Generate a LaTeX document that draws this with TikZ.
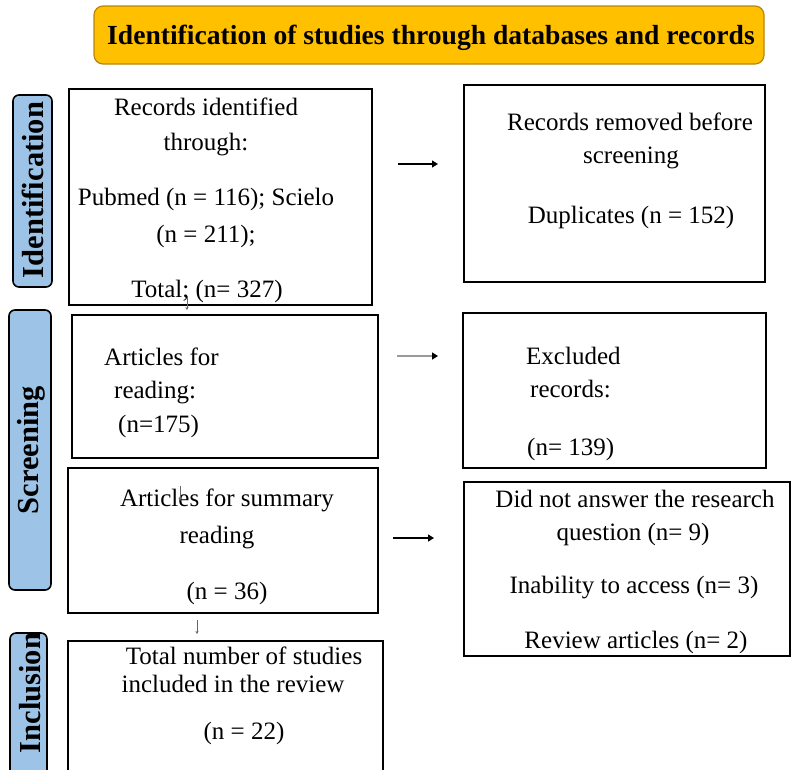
\documentclass[tikz,border=0pt]{standalone}
\usepackage{fontspec}
\setmainfont{Liberation Serif}
\usetikzlibrary{arrows.meta}
\definecolor{titleorange}{HTML}{FFC000}
\definecolor{titleborder}{HTML}{B8860B}
\definecolor{sideblue}{HTML}{9DC3E6}
\begin{document}
\begin{tikzpicture}[x=1pt,y=-1pt,
  box/.style={draw=black,line width=2pt,inner sep=0pt,fill=white},
  txt/.style={anchor=base,inner sep=0pt,font=\fontsize{25}{30}\selectfont},
  txtw/.style={anchor=base west,inner sep=0pt,font=\fontsize{25}{30}\selectfont},
  lbl/.style={draw=black,line width=1.6pt,fill=sideblue,rounded corners=6pt,inner sep=0pt},
  lbltxt/.style={rotate=90,font=\fontsize{30.5}{36}\selectfont\bfseries,inner sep=0pt},
  arr/.style={line width=1.4pt,-{Triangle[length=6pt,width=7pt,color=black]}},
  tickarr/.style={line width=0.6pt,black!60,-{Stealth[length=3pt,width=3pt]}}
]
\useasboundingbox (0,0) rectangle (794,769);
\clip (0,0) rectangle (794,769);

% title
\node[draw=titleborder,line width=1.2pt,fill=titleorange,rounded corners=9pt,
      minimum width=670pt,minimum height=58pt,inner sep=0pt] (title) at (429,35) {};
\node[anchor=base,inner sep=0pt,font=\fontsize{27.6}{32}\selectfont\bfseries] (titletxt) at (431,44)
  {Identification of studies through databases and records};

% side labels
\node[lbl,minimum width=39pt,minimum height=192pt] (L1) at (32.5,191) {};
\node[lbltxt] (L1t) at (33,190) {Identification};
\node[lbl,minimum width=42pt,minimum height=280pt] (L2) at (30,450) {};
\node[lbltxt] (L2t) at (31,450) {Screening};
\node[lbl,minimum width=37pt,minimum height=167pt] (L3) at (28.5,716.5) {};
\node[lbltxt] (L3t) at (30,693) {Inclusion};

% boxes
\node[box,minimum width=303pt,minimum height=216pt] (b1) at (220.5,197) {};
\node[box,minimum width=301pt,minimum height=197pt] (b2) at (614.5,183.5) {};
\node[box,minimum width=306pt,minimum height=143pt] (b3) at (225,386.5) {};
\node[box,minimum width=303pt,minimum height=155pt] (b4) at (614.5,390.5) {};
\node[box,minimum width=310pt,minimum height=145pt] (b5) at (223,540.5) {};
\node[box,minimum width=326pt,minimum height=174pt] (b6) at (627,569) {};
\node[box,minimum width=315pt,minimum height=149pt] (b7) at (225.5,715.5) {};

% box 1 text
\node[txt] (t1a) at (206,115) {Records identified};
\node[txt] (t1b) at (206,150) {through:};
\node[txt] (t1c) at (206,205) {Pubmed (n = 116); Scielo};
\node[txt] (t1d) at (206,242) {(n = 211);};
\node[txt] (t1e) at (207,297) {Total; (n= 327)};

% box 2 text
\node[txt] (t2a) at (630,130) {Records removed before};
\node[txt] (t2b) at (631,163) {screening};
\node[txt] (t2c) at (631,223) {Duplicates (n = 152)};

% box 3 text
\node[txtw] (t3a) at (104,365) {Articles for};
\node[txtw] (t3b) at (114,398) {reading:};
\node[txtw] (t3c) at (118,432) {(n=175)};

% box 4 text
\node[txtw] (t4a) at (526,364) {Excluded};
\node[txtw] (t4b) at (530,397) {records:};
\node[txtw] (t4c) at (527,455) {(n= 139)};

% box 5 text
\node[txt] (t5a) at (227,506) {Articles for summary};
\node[txt] (t5b) at (217,543) {reading};
\node[txt] (t5c) at (227,599) {(n = 36)};

% box 6 text
\node[txt] (t6a) at (635,507) {Did not answer the research};
\node[txt] (t6b) at (633,540) {question (n= 9)};
\node[txt] (t6c) at (634,593) {Inability to access (n= 3)};
\node[txt] (t6d) at (636,648) {Review articles (n= 2)};

% box 7 text
\node[txt] (t7a) at (244,664) {Total number of studies};
\node[txt] (t7b) at (233,692) {included in the review};
\node[txt] (t7c) at (244,739) {(n = 22)};

% horizontal arrows
\coordinate (a1s) at (398,164); \coordinate (a1e) at (438,164);
\coordinate (a2s) at (397,356); \coordinate (a2e) at (438,356);
\coordinate (a3s) at (393,538); \coordinate (a3e) at (434,538);
\draw[arr] (a1s) -- (a1e);
\draw[arr,draw=black!40] (a2s) -- (a2e);
\draw[arr] (a3s) -- (a3e);

% small vertical arrows
\coordinate (d1s) at (187,296); \coordinate (d1e) at (187,310);
\coordinate (d2s) at (180,486); \coordinate (d2e) at (180,501);
\coordinate (d3s) at (197,620); \coordinate (d3e) at (197,634);
\draw[tickarr] (d1s) -- (d1e);
\draw[tickarr] (d2s) -- (d2e);
\draw[tickarr] (d3s) -- (d3e);
\end{tikzpicture}
\end{document}
